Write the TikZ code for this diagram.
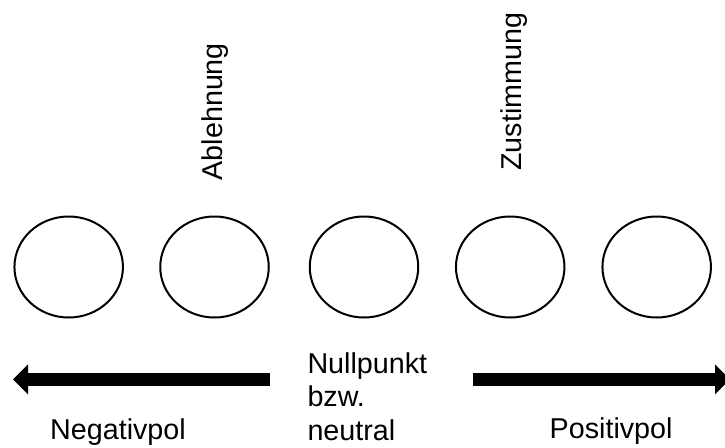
\documentclass[tikz,border=0pt]{standalone}
\usepackage{fontspec}
\setmainfont{Liberation Sans}
\usetikzlibrary{shapes.geometric,arrows.meta}
\begin{document}
\begin{tikzpicture}[x=1pt,y=-1pt,
  oval/.style={ellipse,draw=black,line width=2pt,minimum width=108.5pt,minimum height=101pt,inner sep=0pt},
  lbl/.style={inner sep=0pt,font=\fontsize{28.7}{33.3}\selectfont},
  polarrow/.style={line width=13pt,-{Triangle[length=15pt,width=29pt]}}]
\useasboundingbox (0,0) rectangle (725,447);
\node[oval] (o1) at (68.7,267) {};
\node[oval] (o2) at (214.5,267) {};
\node[oval] (o3) at (364,267) {};
\node[oval] (o4) at (510.2,267) {};
\node[oval] (o5) at (656.7,267) {};
\node[lbl,rotate=90,anchor=base west] (abl) at (222.7,180.5) {Ablehnung};
\node[lbl,rotate=90,anchor=base west] (zus) at (521.7,171) {Zustimmung};
\coordinate (ls) at (270,379.3);
\coordinate (le) at (13,379.3);
\coordinate (rs) at (472.7,379.3);
\coordinate (re) at (730,379.3);
\draw[polarrow] (ls) -- (le);
\draw[polarrow] (rs) -- (re);
\node[lbl,anchor=base west] (neg) at (50,439.3) {Negativpol};
\node[lbl,anchor=base west] (pos) at (549.5,438.3) {Positivpol};
\node[lbl,anchor=north west,align=left] (null) at (307.3,352.5) {Nullpunkt\\bzw.\\neutral};
\end{tikzpicture}
\end{document}
